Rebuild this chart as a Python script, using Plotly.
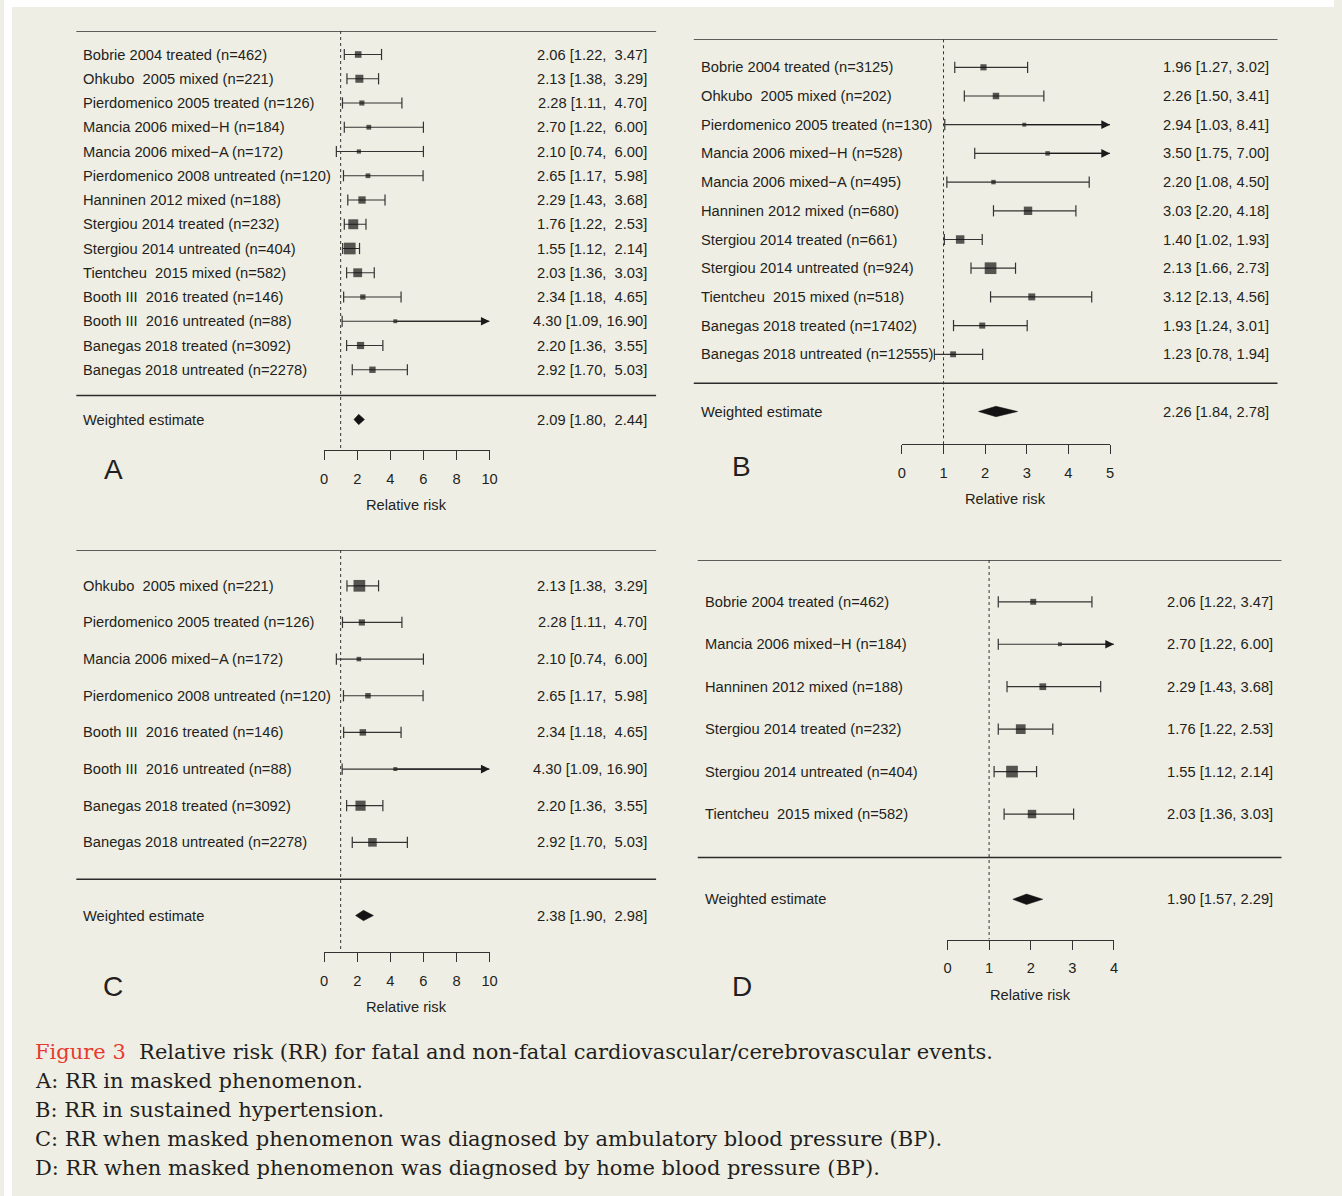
import math
import plotly.graph_objects as go

# ---------------------------------------------------------------- data
A_studies = ["Bobrie 2004 treated (n=462)", "Ohkubo  2005 mixed (n=221)",
             "Pierdomenico 2005 treated (n=126)", "Mancia 2006 mixed\u2212H (n=184)",
             "Mancia 2006 mixed\u2212A (n=172)", "Pierdomenico 2008 untreated (n=120)",
             "Hanninen 2012 mixed (n=188)", "Stergiou 2014 treated (n=232)",
             "Stergiou 2014 untreated (n=404)", "Tientcheu  2015 mixed (n=582)",
             "Booth III  2016 treated (n=146)", "Booth III  2016 untreated (n=88)",
             "Banegas 2018 treated (n=3092)", "Banegas 2018 untreated (n=2278)"]
A_rr = [2.06, 2.13, 2.28, 2.70, 2.10, 2.65, 2.29, 1.76, 1.55, 2.03, 2.34, 4.30, 2.20, 2.92]
A_lo = [1.22, 1.38, 1.11, 1.22, 0.74, 1.17, 1.43, 1.22, 1.12, 1.36, 1.18, 1.09, 1.36, 1.70]
A_hi = [3.47, 3.29, 4.70, 6.00, 6.00, 5.98, 3.68, 2.53, 2.14, 3.03, 4.65, 16.90, 3.55, 5.03]
A_pooled = [2.09, 1.80, 2.44]

B_studies = ["Bobrie 2004 treated (n=3125)", "Ohkubo  2005 mixed (n=202)",
             "Pierdomenico 2005 treated (n=130)", "Mancia 2006 mixed\u2212H (n=528)",
             "Mancia 2006 mixed\u2212A (n=495)", "Hanninen 2012 mixed (n=680)",
             "Stergiou 2014 treated (n=661)", "Stergiou 2014 untreated (n=924)",
             "Tientcheu  2015 mixed (n=518)", "Banegas 2018 treated (n=17402)",
             "Banegas 2018 untreated (n=12555)"]
B_rr = [1.96, 2.26, 2.94, 3.50, 2.20, 3.03, 1.40, 2.13, 3.12, 1.93, 1.23]
B_lo = [1.27, 1.50, 1.03, 1.75, 1.08, 2.20, 1.02, 1.66, 2.13, 1.24, 0.78]
B_hi = [3.02, 3.41, 8.41, 7.00, 4.50, 4.18, 1.93, 2.73, 4.56, 3.01, 1.94]
B_pooled = [2.26, 1.84, 2.78]

C_studies = ["Ohkubo  2005 mixed (n=221)", "Pierdomenico 2005 treated (n=126)",
             "Mancia 2006 mixed\u2212A (n=172)", "Pierdomenico 2008 untreated (n=120)",
             "Booth III  2016 treated (n=146)", "Booth III  2016 untreated (n=88)",
             "Banegas 2018 treated (n=3092)", "Banegas 2018 untreated (n=2278)"]
C_rr = [2.13, 2.28, 2.10, 2.65, 2.34, 4.30, 2.20, 2.92]
C_lo = [1.38, 1.11, 0.74, 1.17, 1.18, 1.09, 1.36, 1.70]
C_hi = [3.29, 4.70, 6.00, 5.98, 4.65, 16.90, 3.55, 5.03]
C_pooled = [2.38, 1.90, 2.98]

D_studies = ["Bobrie 2004 treated (n=462)", "Mancia 2006 mixed\u2212H (n=184)",
             "Hanninen 2012 mixed (n=188)", "Stergiou 2014 treated (n=232)",
             "Stergiou 2014 untreated (n=404)", "Tientcheu  2015 mixed (n=582)"]
D_rr = [2.06, 2.70, 2.29, 1.76, 1.55, 2.03]
D_lo = [1.22, 1.22, 1.43, 1.22, 1.12, 1.36]
D_hi = [3.47, 6.00, 3.68, 2.53, 2.14, 3.03]
D_pooled = [1.90, 1.57, 2.29]

A_ticks = [0, 2, 4, 6, 8, 10]
B_ticks = [0, 1, 2, 3, 4, 5]
C_ticks = [0, 2, 4, 6, 8, 10]
D_ticks = [0, 1, 2, 3, 4]

pooled_label = "Weighted estimate"
axis_title = "Relative risk"
caption_head = "Figure 3"
caption_lines = [
    "Relative risk (RR) for fatal and non-fatal cardiovascular/cerebrovascular events.",
    "A: RR in masked phenomenon.",
    "B: RR in sustained hypertension.",
    "C: RR when masked phenomenon was diagnosed by ambulatory blood pressure (BP).",
    "D: RR when masked phenomenon was diagnosed by home blood pressure (BP).",
]

# ---------------------------------------------------------------- page geometry (pixels)
W, H = 1342, 1196
BG = "#efeee4"
INK = "#231f20"
SANS = "Liberation Sans, Arial, sans-serif"
SERIF = "DejaVu Serif, serif"
FS = 14.7


def fx(x):
    return x / W


def fy(y):
    return 1 - y / H


def nb(s):
    # keep runs of spaces visible in SVG text
    return s.replace("  ", "\u00a0 ")


panels = [
    dict(letter="A", studies=A_studies, rr=A_rr, lo=A_lo, hi=A_hi, pooled=A_pooled, ticks=A_ticks,
         x0=323, x1=490, rule=(73, 658), lab_x=82, val_x=647, top=31, row0=54.5, step=24.25,
         rule2=395.5, pool=419.5, axis=450, lpos=(110, 469), pad=True),
    dict(letter="B", studies=B_studies, rr=B_rr, lo=B_lo, hi=B_hi, pooled=B_pooled, ticks=B_ticks,
         x0=906, x1=1116, rule=(696, 1285), lab_x=705, val_x=1274, top=39.3, row0=67.3, step=28.7,
         rule2=383.3, pool=411.5, axis=444.3, lpos=(744, 466), pad=False),
    dict(letter="C", studies=C_studies, rr=C_rr, lo=C_lo, hi=C_hi, pooled=C_pooled, ticks=C_ticks,
         x0=323, x1=490, rule=(73, 658), lab_x=82, val_x=647, top=550, row0=585.8, step=36.65,
         rule2=879.3, pool=915.5, axis=952.3, lpos=(110, 986), pad=True),
    dict(letter="D", studies=D_studies, rr=D_rr, lo=D_lo, hi=D_hi, pooled=D_pooled, ticks=D_ticks,
         x0=952, x1=1120, rule=(700, 1289), lab_x=709, val_x=1278, top=560, row0=601.8, step=42.45,
         rule2=857.5, pool=899.3, axis=939.5, lpos=(745, 986), pad=False),
]

PAD_L, PAD_R = 4, 4  # annotation box inset

fig = go.Figure()
shapes = []
annotations = []
layout_axes = {}

# white margin strips along the top and left edges of the page
shapes.append(dict(type="rect", xref="paper", yref="paper", x0=0, x1=fx(8), y0=0, y1=1,
                   fillcolor="white", line=dict(width=0), layer="below"))
shapes.append(dict(type="rect", xref="paper", yref="paper", x0=0, x1=1, y0=fy(7), y1=1,
                   fillcolor="white", line=dict(width=0), layer="below"))


def fmt_ci(v, lo, hi, pad):
    if pad:
        s = f"{v:.2f} [{lo:.2f}, {hi:5.2f}]"
    else:
        s = f"{v:.2f} [{lo:.2f}, {hi:.2f}]"
    return nb(s)


def text_ann(x, y, text, xanchor, yref="paper", size=FS, family=SANS):
    return dict(x=x, y=y, xref="paper", yref=yref, text=text, xanchor=xanchor,
                yanchor="middle", showarrow=False,
                font=dict(family=family, size=size, color=INK))


for k, p in enumerate(panels):
    sfx = "" if k == 0 else str(k + 1)
    xa, ya = "x" + sfx, "y" + sfx
    xmax = p["ticks"][-1]
    n = len(p["studies"])

    def row(ypix, p=p):
        return (ypix - p["row0"]) / p["step"]

    y_bottom, y_top = row(p["axis"]), row(p["top"])

    layout_axes["xaxis" + sfx] = dict(
        domain=[fx(p["x0"]), fx(p["x1"])], range=[0, xmax], anchor=ya,
        tickvals=p["ticks"], ticktext=[str(t) for t in p["ticks"]],
        ticks="outside", ticklen=9, tickwidth=1.2, tickcolor="#333",
        showline=True, linewidth=1.2, linecolor="#333", showgrid=False, zeroline=False,
        tickfont=dict(family=SANS, size=FS, color=INK), ticklabelstandoff=6,
    )
    layout_axes["yaxis" + sfx] = dict(
        domain=[fy(p["axis"]), fy(p["top"])], range=[y_bottom, y_top], anchor=xa,
        visible=False, showgrid=False, zeroline=False,
    )

    # inverse-variance weights -> box sizes (metafor style: 0.5 .. 1.5 scale)
    w = [1 / ((math.log(h) - math.log(l)) / (2 * 1.959964)) ** 2 for l, h in zip(p["lo"], p["hi"])]
    wmin, wmax = min(w), max(w)
    psize = [0.5 + (wi - wmin) / (wmax - wmin) for wi in w]
    box = [7.8 * s for s in psize]

    # whiskers, end caps and truncation arrows
    wx, wy, cx, cy = [], [], [], []
    for i, (l, h) in enumerate(zip(p["lo"], p["hi"])):
        hh = min(h, xmax)
        wx += [l, hh, None]
        wy += [i, i, None]
        cx.append(l)
        cy.append(i)
        if h <= xmax:
            cx.append(h)
            cy.append(i)
        else:
            annotations.append(dict(x=xmax, y=i, xref=xa, yref=ya, ax=p["rr"][i], ay=i,
                                    axref=xa, ayref=ya, text="", showarrow=True,
                                    arrowhead=2, arrowsize=1.45, arrowwidth=1.2,
                                    arrowcolor="#1c1a1b", standoff=0))
    fig.add_trace(go.Scatter(x=wx, y=wy, xaxis=xa, yaxis=ya, mode="lines",
                             line=dict(color="#333", width=1.2), hoverinfo="skip",
                             cliponaxis=False, showlegend=False))
    fig.add_trace(go.Scatter(x=cx, y=cy, xaxis=xa, yaxis=ya, mode="markers",
                             marker=dict(symbol="line-ns", size=8,
                                         line=dict(color="#333", width=1.2)),
                             hoverinfo="skip", cliponaxis=False, showlegend=False))
    # point estimates
    fig.add_trace(go.Scatter(x=p["rr"], y=list(range(n)), xaxis=xa, yaxis=ya, mode="markers",
                             marker=dict(symbol="square", size=box, color="#141213",
                                         line=dict(width=0)),
                             cliponaxis=False, showlegend=False))
    # pooled diamond
    pe, pl, ph = p["pooled"]
    yr = row(p["pool"])
    hd = 5.2 / p["step"]
    fig.add_trace(go.Scatter(x=[pl, pe, ph, pe, pl], y=[yr, yr - hd, yr, yr + hd, yr],
                             xaxis=xa, yaxis=ya, mode="lines", fill="toself",
                             fillcolor="#141213", line=dict(color="#141213", width=0.5),
                             cliponaxis=False, showlegend=False))

    # rules and reference line
    for yp in (p["top"], p["rule2"]):
        shapes.append(dict(type="line", xref="paper", yref=ya, x0=fx(p["rule"][0]),
                           x1=fx(p["rule"][1]), y0=row(yp), y1=row(yp),
                           line=dict(color="#2b2b2b", width=1.5)))
    shapes.append(dict(type="line", xref=xa, yref=ya, x0=1, x1=1, y0=y_top, y1=y_bottom,
                       line=dict(color="#333", width=1, dash="dot")))

    # study labels and CI text
    for i, name in enumerate(p["studies"]):
        annotations.append(text_ann(fx(p["lab_x"] - PAD_L), i, nb(name), "left", ya))
        annotations.append(text_ann(fx(p["val_x"] + PAD_R), i,
                                    fmt_ci(p["rr"][i], p["lo"][i], p["hi"][i], p["pad"]),
                                    "right", ya))
    annotations.append(text_ann(fx(p["lab_x"] - PAD_L), yr, pooled_label, "left", ya))
    annotations.append(text_ann(fx(p["val_x"] + PAD_R), yr, fmt_ci(pe, pl, ph, p["pad"]),
                                "right", ya))
    # axis title and panel letter
    annotations.append(text_ann(fx((p["x0"] + p["x1"]) / 2), fy(p["axis"] + 55), axis_title,
                                "center"))
    annotations.append(text_ann(fx(p["lpos"][0]), fy(p["lpos"][1]), p["letter"], "center",
                                size=28))

# caption
cap_y = [1052, 1081, 1110, 1139, 1168]
for j, line in enumerate(caption_lines):
    txt = line if j else f"<span style='color:#e63a2e'>{caption_head}</span>\u00a0 {line}"
    annotations.append(text_ann(fx(33 - PAD_L), fy(cap_y[j]), txt, "left", size=21.0,
                                family=SERIF))

fig.update_layout(
    width=W, height=H, margin=dict(l=0, r=0, t=0, b=0),
    paper_bgcolor=BG, plot_bgcolor="rgba(0,0,0,0)",
    shapes=shapes, annotations=annotations, showlegend=False,
    **layout_axes,
)

fig.write_html("out.html")
